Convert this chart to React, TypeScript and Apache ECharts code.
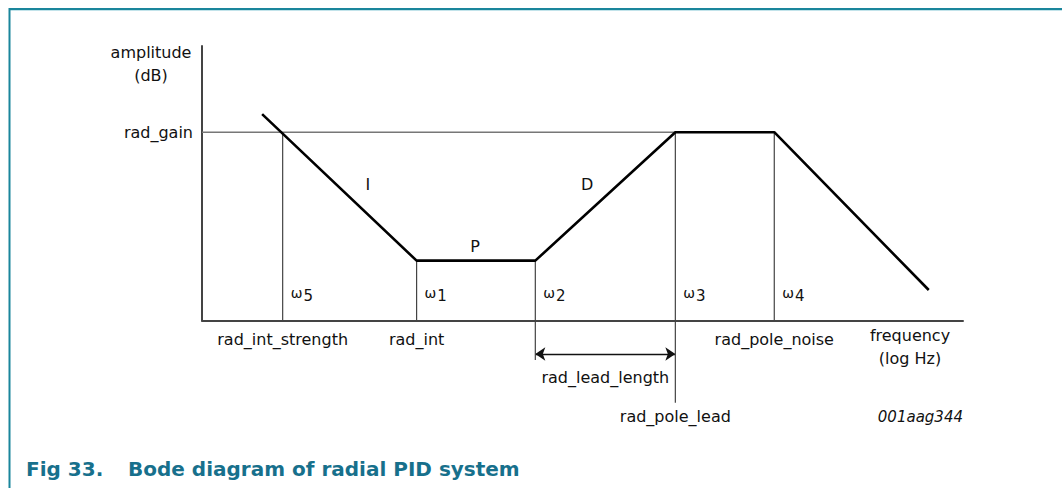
import React, { useEffect, useRef } from "react";
import * as echarts from "echarts";

// Bode asymptotes (x: log frequency units, y: amplitude units)
const bodeFreq = [0.79, 2.82, 4.38, 6.22, 7.52, 9.55];
const bodeAmp = [7.52, 2.18, 2.18, 6.86, 6.86, 1.11];
const radGain = 6.86;
const radGainEndFreq = 6.22;

// Break frequencies
const omegaIdx = ["5", "1", "2", "3", "4"];
const omegaFreq = [1.06, 2.82, 4.38, 6.22, 7.52];
const omegaTop = [6.86, 2.18, 2.18, 6.86, 6.86];
const omegaBottom = [0, 0, -1.44, -3.0, 0];
const omegaLabelAmp = 0.93;

// Region labels
const regionNames = ["I", "P", "D"];
const regionFreq = [2.18, 3.59, 5.06];
const regionAmp = [4.94, 2.68, 4.94];

// Parameter labels
const paramNames = ["rad_int_strength", "rad_int", "rad_lead_length", "rad_pole_lead", "rad_pole_noise"];
const paramFreq = [1.06, 2.82, 5.3, 6.22, 7.52];
const paramAmp = [-0.71, -0.71, -2.09, -3.48, -0.71];

// Lead length arrow
const leadArrowFreq = [4.38, 6.22];
const leadArrowAmp = -1.22;

const FONT = '"DejaVu Sans", "Liberation Sans", Arial, sans-serif';
const TXT = "#111";

export default function App() {
  const ref = useRef<HTMLDivElement>(null);
  useEffect(() => {
    if (!ref.current) return;
    const chart = echarts.init(ref.current, null, { renderer: "svg" });

    const omegaLines: any[] = [];
    omegaFreq.forEach((f, i) => {
      omegaLines.push([f, omegaTop[i]]);
      omegaLines.push([f, omegaBottom[i]]);
      omegaLines.push("-");
    });

    const labelSeries = (data: any[], label: any) => ({
      type: "scatter",
      symbol: "circle",
      symbolSize: 0,
      silent: true,
      clip: false,
      itemStyle: { opacity: 1, color: TXT },
      data,
      label: { show: true, fontFamily: FONT, fontSize: 16, color: TXT, opacity: 1, textBorderWidth: 0, ...label },
    });

    chart.setOption({
      animation: false,
      backgroundColor: "#fff",
      grid: { left: 202, right: 99, top: 46, bottom: 167.5 },
      xAxis: {
        type: "value",
        min: 0,
        max: 10,
        axisLine: { show: true, lineStyle: { color: "#444", width: 2 } },
        axisTick: { show: false },
        axisLabel: { show: false },
        splitLine: { show: false },
      },
      yAxis: {
        type: "value",
        min: 0,
        max: 10,
        axisLine: { show: true, lineStyle: { color: "#444", width: 2 } },
        axisTick: { show: false },
        axisLabel: { show: false },
        splitLine: { show: false },
      },
      series: [
        {
          type: "line",
          data: [[0, radGain], [radGainEndFreq, radGain]],
          symbol: "none",
          silent: true,
          lineStyle: { color: "#777", width: 1.5 },
        },
        {
          type: "line",
          data: omegaLines,
          symbol: "none",
          silent: true,
          clip: false,
          connectNulls: false,
          lineStyle: { color: "#444", width: 1.2 },
        },
        {
          type: "lines",
          coordinateSystem: "cartesian2d",
          silent: true,
          clip: false,
          symbol: ["arrow", "arrow"],
          symbolSize: 10,
          lineStyle: { color: "#111", width: 1.3, opacity: 1 },
          itemStyle: { color: "#111" },
          data: [{ coords: [[leadArrowFreq[0], leadArrowAmp], [leadArrowFreq[1], leadArrowAmp]] }],
        },
        {
          type: "line",
          data: bodeFreq.map((f, i) => [f, bodeAmp[i]]),
          symbol: "none",
          silent: true,
          lineStyle: { color: "#000", width: 2.6 },
        },
        labelSeries([[0, radGain, "rad_gain"]], {
          position: "left",
          distance: 9,
          formatter: (p: any) => p.data[2],
        }),
        labelSeries(
          regionNames.map((n, i) => [regionFreq[i], regionAmp[i], n]),
          { position: "inside", formatter: (p: any) => p.data[2] }
        ),
        labelSeries(
          paramNames.map((n, i) => [paramFreq[i], paramAmp[i], n]),
          { position: "inside", formatter: (p: any) => p.data[2] }
        ),
        labelSeries(
          omegaIdx.map((n, i) => [omegaFreq[i], omegaLabelAmp, n]),
          {
            position: "right",
            distance: 8,
            formatter: (p: any) => `{w|ω}{s|${p.data[2]}}`,
            rich: {
              w: { fontFamily: FONT, fontSize: 14, color: TXT, lineHeight: 18, verticalAlign: "top" },
              s: { fontFamily: FONT, fontSize: 15, color: TXT, lineHeight: 18, padding: [6, 0, 0, 1], verticalAlign: "bottom" },
            },
          }
        ),
      ],
      graphic: [
        { type: "line", shape: { x1: 9, y1: 9, x2: 1062, y2: 9 }, style: { stroke: "#1a869c", lineWidth: 2 }, silent: true },
        { type: "line", shape: { x1: 10, y1: 10.5, x2: 1062, y2: 10.5 }, style: { stroke: "#c2e3ea", lineWidth: 1 }, silent: true },
        { type: "line", shape: { x1: 9.5, y1: 8, x2: 9.5, y2: 488 }, style: { stroke: "#1a869c", lineWidth: 2 }, silent: true },
        {
          type: "text",
          x: 151,
          y: 41,
          silent: true,
          style: { text: "amplitude\n(dB)", align: "center", verticalAlign: "top", font: `16px ${FONT}`, fill: TXT, lineHeight: 23 },
        },
        {
          type: "text",
          x: 910,
          y: 324,
          silent: true,
          style: { text: "frequency\n(log Hz)", align: "center", verticalAlign: "top", font: `16px ${FONT}`, fill: TXT, lineHeight: 23 },
        },
        {
          type: "text",
          x: 963,
          y: 417,
          silent: true,
          style: { text: "001aag344", align: "right", verticalAlign: "middle", font: `italic 15px ${FONT}`, fill: TXT },
        },
        {
          type: "text",
          x: 26,
          y: 469,
          silent: true,
          style: { text: "Fig 33.", align: "left", verticalAlign: "middle", font: `bold 20px ${FONT}`, fill: "#17708c" },
        },
        {
          type: "text",
          x: 128,
          y: 469,
          silent: true,
          style: { text: "Bode diagram of radial PID system", align: "left", verticalAlign: "middle", font: `bold 20px ${FONT}`, fill: "#17708c" },
        },
      ],
    });
    return () => chart.dispose();
  }, []);
  return (
    <div
      ref={ref}
      style={{ position: "fixed", left: 0, top: 0, width: 1062, height: 488, background: "#fff" }}
    />
  );
}
